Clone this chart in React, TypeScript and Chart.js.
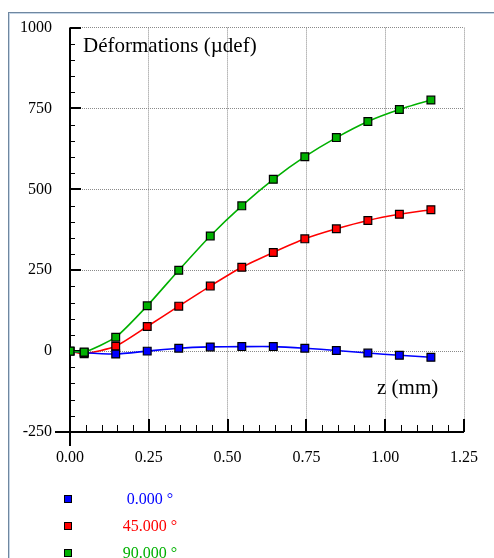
import React, { useEffect, useRef } from 'react';
import { Chart, registerables } from 'chart.js';
Chart.register(...registerables);

// ---- data ----
const zValues = [0, 0.045, 0.145, 0.245, 0.345, 0.445, 0.545, 0.645, 0.745, 0.845, 0.945, 1.045, 1.145];
const strain0 = [0, -5, -9, 0, 9, 13, 14, 14, 9, 2, -6, -13, -19];
const strain45 = [0, -8, 15, 76, 139, 201, 259, 305, 347, 378, 404, 423, 437];
const strain90 = [0, -3, 43, 140, 250, 356, 449, 531, 601, 660, 710, 747, 776];
const seriesLabels = ['0.000 °', '45.000 °', '90.000 °'];
const seriesColors = ['#0000ff', '#ff0000', '#00b000'];
const xTickValues = [0, 0.25, 0.5, 0.75, 1.0, 1.25];
const yTickValues = [-250, 0, 250, 500, 750, 1000];
const yTitle = 'Déformations (µdef)';
const xTitle = 'z (mm)';

const SERIF = "'Liberation Serif', 'Times New Roman', serif";

const toPoints = (ys: number[]) => zValues.map((x, i) => ({ x, y: ys[i] }));

const decorPlugin = {
  id: 'decor',
  beforeDraw(chart: any) {
    const ctx = chart.ctx;
    ctx.save();
    ctx.fillStyle = '#ffffff';
    ctx.fillRect(0, 0, chart.width, chart.height);
    // frame
    ctx.fillStyle = '#6f87a0';
    ctx.fillRect(8, 12, 1, chart.height - 12);
    ctx.fillRect(8, 12, chart.width - 8, 1);
    ctx.fillStyle = '#c5d5e6';
    ctx.fillRect(9, 13, 1, chart.height - 13);
    ctx.fillRect(9, 13, chart.width - 9, 1);
    ctx.restore();
  },
  beforeDatasetsDraw(chart: any) {
    const ctx = chart.ctx;
    const xs = chart.scales.x;
    const ys = chart.scales.y;
    const left = xs.getPixelForValue(xs.min);
    const right = xs.getPixelForValue(xs.max);
    const bottom = ys.getPixelForValue(ys.min);
    const top = ys.getPixelForValue(ys.max);
    ctx.save();
    ctx.strokeStyle = '#000';
    // minor ticks
    ctx.lineWidth = 1;
    ctx.beginPath();
    for (let v = ys.min; v <= ys.max + 1e-9; v += 50) {
      const p = Math.round(ys.getPixelForValue(v)) + 0.5;
      ctx.moveTo(left, p);
      ctx.lineTo(left + 5, p);
    }
    for (let i = 0; i <= 25; i++) {
      const v = i * 0.05;
      const p = Math.round(xs.getPixelForValue(v)) + 0.5;
      ctx.moveTo(p, bottom);
      ctx.lineTo(p, bottom - 7);
    }
    ctx.stroke();
    // major ticks
    ctx.lineWidth = 2;
    ctx.beginPath();
    yTickValues.forEach((v) => {
      const p = Math.round(ys.getPixelForValue(v));
      ctx.moveTo(left, p);
      ctx.lineTo(left + 11, p);
    });
    xTickValues.forEach((v) => {
      const p = Math.round(xs.getPixelForValue(v));
      ctx.moveTo(p, bottom);
      ctx.lineTo(p, bottom - 13);
    });
    ctx.stroke();
    // axes
    ctx.lineWidth = 2;
    ctx.beginPath();
    ctx.moveTo(left, top);
    ctx.lineTo(left, bottom + 14);
    ctx.moveTo(left - 15, bottom);
    ctx.lineTo(right, bottom);
    ctx.stroke();
    // titles
    ctx.fillStyle = '#000';
    ctx.font = `21px ${SERIF}`;
    ctx.textBaseline = 'alphabetic';
    ctx.textAlign = 'left';
    ctx.fillText(yTitle, left + 13, 52);
    ctx.fillText(xTitle, 377, 394);
    ctx.restore();
  },
  afterDraw(chart: any) {
    const ctx = chart.ctx;
    ctx.save();
    ctx.font = `16px ${SERIF}`;
    ctx.textBaseline = 'middle';
    ctx.textAlign = 'center';
    const rows = [499, 526, 553];
    seriesLabels.forEach((lab, i) => {
      const y = rows[i];
      ctx.fillStyle = seriesColors[i];
      ctx.fillRect(65, y - 3, 6, 6);
      ctx.strokeStyle = '#000';
      ctx.lineWidth = 1;
      ctx.strokeRect(64.5, y - 3.5, 7, 7);
      ctx.fillText(lab, 150, y + 1);
    });
    ctx.restore();
  },
};

export default function App() {
  const ref = useRef<HTMLCanvasElement>(null);
  useEffect(() => {
    if (!ref.current) return;
    const mk = (label: string, ys: number[], color: string, order: number) => ({
      label,
      data: toPoints(ys),
      showLine: true,
      borderColor: color,
      borderWidth: 1.6,
      backgroundColor: color,
      pointStyle: 'rect',
      pointRadius: 5.5,
      pointHoverRadius: 5.5,
      pointBackgroundColor: color,
      pointBorderColor: '#000',
      pointBorderWidth: 1.2,
      tension: 0.2,
      order,
    });
    const chart = new Chart(ref.current, {
      type: 'scatter',
      data: {
        datasets: [
          mk(seriesLabels[0], strain0, seriesColors[0], 1),
          mk(seriesLabels[1], strain45, seriesColors[1], 2),
          mk(seriesLabels[2], strain90, seriesColors[2], 0),
        ],
      },
      options: {
        responsive: false,
        animation: false,
        layout: { padding: { top: 24, right: 16, left: 0, bottom: 0 } },
        plugins: { legend: { display: false }, tooltip: { enabled: false }, title: { display: false } },
        scales: {
          x: {
            type: 'linear',
            min: 0,
            max: 1.25,
            afterBuildTicks: (s: any) => { s.ticks = xTickValues.map((v) => ({ value: v })); },
            afterFit: (s: any) => { s.height = 126; },
            ticks: {
              callback: (v: any) => Number(v).toFixed(2),
              font: { family: SERIF, size: 16 },
              color: '#000',
              padding: 16,
              maxRotation: 0,
            },
            grid: { color: '#8a8a8a', lineWidth: 1, drawTicks: false },
            border: { display: false, dash: [1, 1] },
          },
          y: {
            type: 'linear',
            min: -250,
            max: 1000,
            afterBuildTicks: (s: any) => { s.ticks = yTickValues.map((v) => ({ value: v })); },
            afterFit: (s: any) => { s.width = 70; },
            ticks: {
              callback: (v: any) => String(v),
              font: { family: SERIF, size: 16 },
              color: '#000',
              padding: 18,
            },
            grid: { color: '#8a8a8a', lineWidth: 1, drawTicks: false },
            border: { display: false, dash: [1, 1] },
          },
        },
      },
      plugins: [decorPlugin],
    } as any);
    return () => chart.destroy();
  }, []);
  return (
    <div style={{ position: 'fixed', left: 0, top: 0, width: 494, height: 558, background: '#fff' }}>
      <canvas ref={ref} width={494} height={558} style={{ display: 'block', width: 494, height: 558 }} />
    </div>
  );
}
